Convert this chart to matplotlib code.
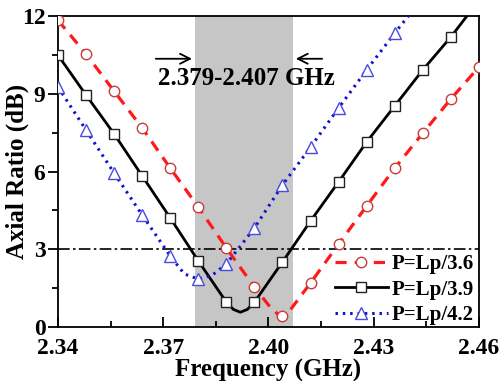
import numpy as np
import matplotlib
matplotlib.use('Agg')
import matplotlib.pyplot as plt
from matplotlib.ticker import MultipleLocator

plt.rcParams['font.family'] = ['Liberation Serif', 'DejaVu Serif']
plt.rcParams['font.weight'] = 'bold'

# 轴比曲线 (频率 GHz, 轴比 dB)
freq_36 = [2.340, 2.348, 2.356, 2.364, 2.372, 2.380, 2.388, 2.396, 2.400, 2.403,
           2.404, 2.406, 2.412, 2.420, 2.428, 2.436, 2.444, 2.452, 2.460]
ar_36 = [11.84, 10.53, 9.10, 7.68, 6.13, 4.63, 3.05, 1.54, 0.85, 0.45,
         0.42, 0.62, 1.70, 3.20, 4.67, 6.13, 7.48, 8.80, 10.03]
mark_36 = [0, 1, 2, 3, 4, 5, 6, 7, 10, 12, 13, 14, 15, 16, 17, 18]

freq_39 = [2.340, 2.348, 2.356, 2.364, 2.372, 2.380, 2.388, 2.390, 2.392, 2.394,
           2.396, 2.404, 2.412, 2.420, 2.428, 2.436, 2.444, 2.452, 2.460]
ar_39 = [10.49, 8.95, 7.45, 5.83, 4.21, 2.55, 0.96, 0.68, 0.57, 0.68,
         0.96, 2.51, 4.09, 5.60, 7.14, 8.53, 9.92, 11.19, 12.60]
mark_39 = [0, 1, 2, 3, 4, 5, 6, 10, 11, 12, 13, 14, 15, 16, 17]

freq_42 = [2.340, 2.348, 2.356, 2.364, 2.372, 2.376, 2.380, 2.384, 2.388, 2.396,
           2.404, 2.412, 2.420, 2.428, 2.436, 2.444]
ar_42 = [9.26, 7.60, 5.94, 4.32, 2.74, 2.05, 1.85, 2.00, 2.43, 3.82,
         5.48, 6.94, 8.45, 9.92, 11.34, 12.70]
mark_42 = [0, 1, 2, 3, 4, 6, 8, 9, 10, 11, 12, 13, 14]

band = (2.379, 2.407)

fig = plt.figure(figsize=(5.02, 3.81), dpi=100)
ax = fig.add_axes([0.1155, 0.1417, 0.8385, 0.8163])

ax.axvspan(band[0], band[1], color='#c6c6c6', zorder=0, lw=0)
ax.axhline(3, color='black', lw=1.2, dashes=(7, 2, 1.5, 2), zorder=1)

ax.plot(freq_36, ar_36, color='#ff1a1a', lw=2.3, dashes=(3.5, 2.5),
        marker='o', ms=7.5, mfc='white', mec='#c83c3c', mew=1.0,
        markevery=mark_36, label='P=Lp/3.6', zorder=3)
ax.plot(freq_39, ar_39, color='black', lw=2.0,
        marker='s', ms=6.5, mfc='white', mec='#222222', mew=1.0,
        markevery=mark_39, label='P=Lp/3.9', zorder=3)
ax.plot(freq_42, ar_42, color='#1010d0', lw=2.2, dashes=(0.8, 1.6),
        marker='^', ms=8, mfc='white', mec='#4a4ae0', mew=1.0,
        markevery=mark_42, label='P=Lp/4.2', zorder=3)

# 带宽标注
ax.annotate('', xy=(band[0], 10.35), xytext=(2.3671, 10.35),
            arrowprops=dict(arrowstyle='->', lw=1.3, color='black', mutation_scale=18))
ax.annotate('', xy=(band[1], 10.35), xytext=(2.4161, 10.35),
            arrowprops=dict(arrowstyle='->', lw=1.3, color='black', mutation_scale=18))
ax.text(2.3936, 9.6, '2.379-2.407 GHz', ha='center', va='center',
        fontsize=18, fontweight='bold')

ax.set_xlim(2.34, 2.46)
ax.set_ylim(0, 12)
ax.xaxis.set_major_locator(MultipleLocator(0.03))
ax.xaxis.set_minor_locator(MultipleLocator(0.015))
ax.yaxis.set_major_locator(MultipleLocator(3))
ax.yaxis.set_minor_locator(MultipleLocator(1.5))
ax.xaxis.set_major_formatter(plt.FuncFormatter(lambda v, p: '%.2f' % v))
ax.tick_params(axis='x', which='both', direction='in', labelsize=17, pad=8)
ax.tick_params(axis='y', which='both', direction='out', labelsize=17, pad=2)
ax.tick_params(which='major', length=7, width=1.3)
ax.tick_params(which='minor', length=4, width=1.3)
for s in ax.spines.values():
    s.set_linewidth(1.3)

ax.set_xlabel('Frequency (GHz)', fontsize=18, fontweight='bold')
ax.set_ylabel('Axial Ratio (dB)', fontsize=18, fontweight='bold')
ax.xaxis.set_label_coords(0.5, -0.104)
ax.yaxis.set_label_coords(-0.07, 0.5)

ax.legend(loc='lower right', frameon=False, fontsize=15, handlelength=2.5,
          handletextpad=0.2, labelspacing=0.25, borderaxespad=0.0,
          bbox_to_anchor=(1.008, -0.02))

fig.savefig('out.png', dpi=100)
